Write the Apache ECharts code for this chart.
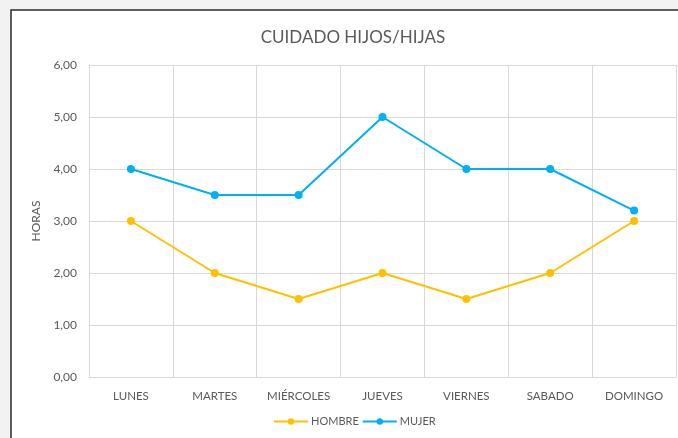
<!DOCTYPE html>
<html>
<head>
<meta charset="utf-8">
<script src="https://cdn.jsdelivr.net/npm/echarts@6/dist/echarts.min.js"></script>
<style>html,body{margin:0;padding:0;background:#f2f2f2;}#c{width:678px;height:438px;}</style>
</head>
<body>
<div id="c"></div>
<script>
var categories = ['LUNES','MARTES','MIÉRCOLES','JUEVES','VIERNES','SABADO','DOMINGO'];
var hombre = [3, 2, 1.5, 2, 1.5, 2, 3];
var mujer = [4, 3.5, 3.5, 5, 4, 4, 3.2];
var font = 'Lato';
var chart = echarts.init(document.getElementById('c'));
chart.setOption({
  backgroundColor: '#f2f2f2',
  animation: false,
  graphic: [{
    type: 'rect', z: -10, silent: true,
    shape: {x: 11, y: 10, width: 720, height: 500},
    style: {fill: '#ffffff', stroke: '#2b2b2b', lineWidth: 1.5}
  }],
  title: {
    text: 'CUIDADO HIJOS/HIJAS', left: 348, top: 24, textAlign: 'center',
    textStyle: {fontFamily: font, fontSize: 17, fontWeight: 'normal', color: '#595959'}
  },
  legend: {
    bottom: 6, left: 268, itemWidth: 34, itemHeight: 8, itemGap: 3,
    textStyle: {fontFamily: font, fontSize: 11, color: '#595959', padding: [0,0,0,-2]},
    data: ['HOMBRE','MUJER']
  },
  grid: {left: 89, right: 2, top: 65, bottom: 61},
  xAxis: {
    type: 'category', data: categories, boundaryGap: true,
    axisLine: {lineStyle: {color: '#d9d9d9'}},
    axisTick: {show: false},
    axisLabel: {interval: 0, fontFamily: font, fontSize: 11.5, color: '#595959', margin: 13},
    splitLine: {show: true, interval: 0, lineStyle: {color: '#d9d9d9'}}
  },
  yAxis: {
    type: 'value', min: 0, max: 6, interval: 1,
    name: 'HORAS', nameLocation: 'middle', nameGap: 46, nameRotate: 90,
    nameTextStyle: {fontFamily: font, fontSize: 12, color: '#595959'},
    axisLine: {show: true, lineStyle: {color: '#d9d9d9'}},
    axisTick: {show: false},
    axisLabel: {fontFamily: font, fontSize: 12, color: '#595959', margin: 12,
      formatter: function(v){ return v.toFixed(2).replace('.', ','); }},
    splitLine: {lineStyle: {color: '#d9d9d9'}}
  },
  series: [
    {name: 'HOMBRE', type: 'line', data: hombre, symbol: 'circle', symbolSize: 8,
     itemStyle: {color: '#FFC000'}, lineStyle: {width: 2, color: '#FFC000'}},
    {name: 'MUJER', type: 'line', data: mujer, symbol: 'circle', symbolSize: 8,
     itemStyle: {color: '#00B0F0'}, lineStyle: {width: 2, color: '#00B0F0'}}
  ]
});
</script>
</body>
</html>
